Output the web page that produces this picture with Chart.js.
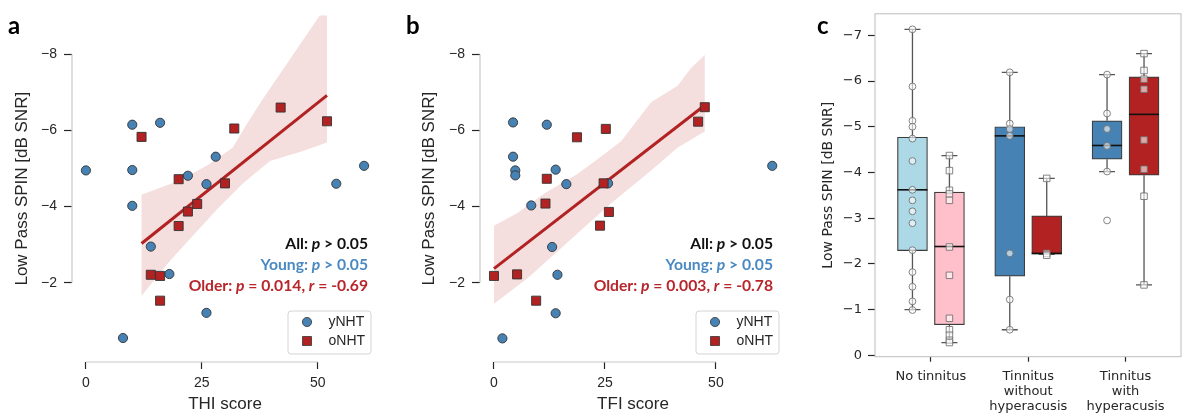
<!DOCTYPE html>
<html>
<head>
<meta charset="utf-8">
<script src="https://cdn.jsdelivr.net/npm/chart.js"></script>
<style>
  body { margin: 0; background: #fff; }
  #wrap { position: relative; width: 1188px; height: 419px; }
  canvas { position: absolute; top: 0; }
</style>
</head>
<body>
<div id="wrap">
  <canvas id="chartA" width="400" height="419" style="left:0"></canvas>
  <canvas id="chartB" width="400" height="419" style="left:400px"></canvas>
  <canvas id="chartC" width="388" height="419" style="left:800px"></canvas>
</div>
<script>
// ---- panel a: THI score ----
const thiYoungX = [0, 10, 16, 10, 22, 28, 26, 54, 60, 10, 14, 18, 26, 8];
const thiYoungY = [-4.95, -6.15, -6.2, -4.96, -4.81, -5.31, -4.59, -4.6, -5.07, -4.02, -2.95, -2.23, -1.21, -0.55];
const thiOlderX = [12, 32, 42, 52, 20, 30, 24, 22, 20, 14, 16, 16];
const thiOlderY = [-5.83, -6.05, -6.6, -6.24, -4.72, -4.61, -4.07, -3.87, -3.49, -2.21, -2.18, -1.53];
const thiFitX = [12, 52];
const thiFitY = [-3.03, -6.92];
const thiBandUpX = [12, 20.3, 26.7, 31.7, 34.6, 38.2, 42.5, 46.8, 50.4, 52];
const thiBandUpY = [-4.31, -4.69, -5.12, -5.55, -6.15, -6.83, -7.6, -8.37, -9.01, -9.3];
const thiBandLoX = [12, 18.1, 23.1, 28.2, 33.9, 39.7, 46.8, 52];
const thiBandLoY = [-1.66, -2.57, -3.24, -3.92, -4.61, -5.2, -5.46, -5.68];

// ---- panel b: TFI score ----
const tfiYoungX = [4.3, 11.9, 4.3, 4.8, 4.8, 13.9, 16.3, 25.7, 8.4, 62.7, 13.1, 14.3, 13.9, 1.9];
const tfiYoungY = [-6.21, -6.15, -5.31, -4.95, -4.82, -4.97, -4.59, -4.61, -4.03, -5.07, -2.94, -2.21, -1.2, -0.54];
const tfiOlderX = [18.7, 25.2, 47.5, 46, 11.9, 24.7, 11.6, 25.9, 23.9, 0, 5.2, 9.5];
const tfiOlderY = [-5.82, -6.04, -6.61, -6.23, -4.73, -4.61, -4.08, -3.86, -3.5, -2.18, -2.22, -1.53];
const tfiFitX = [0, 47.5];
const tfiFitY = [-2.37, -6.66];
const tfiBandUpX = [0, 5.4, 11.4, 18.9, 24.9, 28.7, 35.4, 41.4, 44.4, 47.5];
const tfiBandUpY = [-3.5, -3.84, -4.35, -4.86, -5.38, -5.72, -6.74, -7.17, -7.64, -7.98];
const tfiBandLoX = [0, 7.7, 17.4, 26.4, 35.4, 41.4, 47.5];
const tfiBandLoY = [-1.45, -2.13, -3.15, -4.09, -4.95, -5.55, -5.97];

const yTicksAB = [-8, -6, -4, -2];
const xTicksAB = [0, 25, 50];

// ---- panel c: box plots ----
const groupPos = [0, 1, 2];
const groupLabels = ['No tinnitus', ['Tinnitus', 'without', 'hyperacusis'], ['Tinnitus', 'with', 'hyperacusis']];
const yTicksC = [-7, -6, -5, -4, -3, -2, -1, 0];
const youngQ1 = [-2.29, -1.73, -4.29];
const youngQ3 = [-4.77, -5.0, -5.13];
const youngMed = [-3.62, -4.8, -4.59];
const youngLo = [-1.0, -0.56, -4.02];
const youngHi = [-7.13, -6.19, -6.14];
const olderQ1 = [-0.67, -2.21, -3.94];
const olderQ3 = [-3.57, -3.05, -6.09];
const olderMed = [-2.38, -2.23, -5.27];
const olderLo = [-0.28, -2.21, -1.54];
const olderHi = [-4.37, -3.87, -6.6];
const youngPts = [
  [-7.13, -5.88, -5.13, -5.0, -4.74, -4.25, -3.62, -3.39, -3.15, -2.89, -2.3, -1.82, -1.5, -1.18, -0.99],
  [-6.19, -5.07, -4.95, -4.8, -2.23, -1.22, -0.56],
  [-6.14, -5.29, -4.95, -4.58, -4.02, -2.95]
];
const olderPts = [
  [-4.37, -4.04, -3.61, -3.53, -3.39, -2.37, -1.75, -0.81, -0.56, -0.44, -0.33, -0.28],
  [-3.87, -2.23, -2.19],
  [-6.6, -6.23, -6.04, -5.82, -4.71, -4.07, -3.48, -1.54]
];
const youngFill = ['#add8e6', '#4682b4', '#4682b4'];
const olderFill = ['#ffc0cb', '#b22222', '#b22222'];

const SANS = '"Liberation Sans", Arial, sans-serif';
const DEJAVU = '"DejaVu Sans", sans-serif';
const BLUE = '#4682b4';
const RED = '#b22222';
const TXT = '#262626';
const dodge = 0.19;

function minusFmt(v) { return v < 0 ? '\u2212' + Math.abs(v) : String(v); }
function fixedTicks(list) { return s => { s.ticks = list.map(v => ({ value: v })); }; }
function pts(xs, ys) { return xs.map((x, i) => ({ x, y: ys[i] })); }

function noteFont(italic) { return (italic ? 'italic ' : '') + 'bold 15.7px Lato'; }

function makeDeco(cfg) {
  return {
    id: 'deco',
    beforeDatasetsDraw(chart) {
      const { ctx, chartArea: a, scales: { x, y } } = chart;
      ctx.save();
      ctx.strokeStyle = '#c8c8c8';
      ctx.lineWidth = 1.2;
      ctx.beginPath();
      ctx.moveTo(a.left, y.getPixelForValue(yTicksAB[0]));
      ctx.lineTo(a.left, y.getPixelForValue(yTicksAB[yTicksAB.length - 1]));
      ctx.moveTo(x.getPixelForValue(xTicksAB[0]), a.bottom);
      ctx.lineTo(x.getPixelForValue(xTicksAB[xTicksAB.length - 1]), a.bottom);
      ctx.stroke();
      ctx.restore();
    },
    afterDraw(chart) {
      const { ctx, chartArea: a } = chart;
      ctx.save();
      ctx.fillStyle = '#000';
      ctx.font = 'bold 24px Lato';
      ctx.textAlign = 'left';
      ctx.textBaseline = 'alphabetic';
      ctx.fillText(cfg.letter, cfg.letterX, 33.5);

      // stats text, right aligned
      ctx.textBaseline = 'middle';
      cfg.notes.forEach(n => {
        let w = 0;
        n.runs.forEach(r => { ctx.font = noteFont(r[1]); w += ctx.measureText(r[0]).width; });
        let x = a.right - cfg.noteRight - w;
        ctx.fillStyle = n.color;
        n.runs.forEach(r => {
          ctx.font = noteFont(r[1]);
          ctx.fillText(r[0], x, n.y);
          x += ctx.measureText(r[0]).width;
        });
      });

      // legend box
      const bw = 83, bh = 43;
      const bx = a.right - 7 - bw, by = a.bottom - 8 - bh;
      ctx.beginPath();
      ctx.roundRect(bx, by, bw, bh, 3);
      ctx.fillStyle = 'rgba(255,255,255,0.85)';
      ctx.fill();
      ctx.strokeStyle = '#d4d4d4';
      ctx.lineWidth = 1;
      ctx.stroke();
      const items = chart.data.datasets.filter(d => d.label);
      items.forEach((d, i) => {
        const mx = bx + 19, my = by + 11 + i * 19;
        ctx.fillStyle = d.backgroundColor;
        ctx.strokeStyle = d.borderColor;
        ctx.lineWidth = 0.8;
        ctx.beginPath();
        if (d.pointStyle === 'rect') ctx.rect(mx - 4.5, my - 4.5, 9, 9);
        else ctx.arc(mx, my, 4.6, 0, Math.PI * 2);
        ctx.fill();
        ctx.stroke();
        ctx.fillStyle = TXT;
        ctx.font = '14px ' + SANS;
        ctx.textAlign = 'left';
        ctx.fillText(d.label, bx + 40.5, my);
      });
      ctx.restore();
    }
  };
}

function scatterPanel(id, p) {
  const band = pts(p.upX, p.upY).concat(pts(p.loX, p.loY).reverse());
  return new Chart(document.getElementById(id), {
    type: 'scatter',
    data: {
      datasets: [
        { type: 'line', data: band, fill: 'shape', backgroundColor: 'rgba(178,34,34,0.15)',
          borderColor: 'rgba(0,0,0,0)', borderWidth: 0, pointRadius: 0, tension: 0, order: 4 },
        { type: 'line', data: pts(p.fitX, p.fitY), fill: false, borderColor: RED, borderWidth: 3,
          pointRadius: 0, order: 3 },
        { label: 'yNHT', data: pts(p.youngX, p.youngY), pointStyle: 'circle', pointRadius: 4.6,
          backgroundColor: BLUE, borderColor: '#333', borderWidth: 0.9, order: 2 },
        { label: 'oNHT', data: pts(p.olderX, p.olderY), pointStyle: 'rect', pointRadius: 6.4,
          backgroundColor: RED, borderColor: '#333', borderWidth: 0.9, order: 1 }
      ]
    },
    options: {
      responsive: false,
      animation: false,
      layout: { padding: { top: 8, right: p.padRight, left: 0, bottom: 0 } },
      plugins: { legend: { display: false }, tooltip: { enabled: false } },
      scales: {
        x: {
          type: 'linear', min: p.xMin, max: p.xMax,
          afterBuildTicks: fixedTicks(xTicksAB),
          afterFit: s => { s.height = 57; },
          grid: { drawOnChartArea: false, tickLength: 7, tickColor: TXT, tickWidth: 1.2 },
          border: { display: false },
          ticks: { autoSkip: false, maxRotation: 0, padding: 5.6, color: TXT, font: { family: SANS, size: 14 } },
          title: { display: true, text: p.xTitle, color: TXT, font: { family: SANS, size: 17 },
                   padding: { top: 0, bottom: 4.8 } }
        },
        y: {
          type: 'linear', reverse: true, min: -9.02, max: 0.08,
          afterBuildTicks: fixedTicks(yTicksAB),
          afterFit: s => { s.width = p.yWidth; },
          grid: { drawOnChartArea: false, tickLength: 8, tickColor: TXT, tickWidth: 1.2 },
          border: { display: false },
          ticks: { autoSkip: false, padding: 7, color: TXT, font: { family: SANS, size: 14 },
                   callback: v => minusFmt(v) },
          title: { display: true, text: 'Low Pass SPIN [dB SNR]', color: TXT,
                   font: { family: SANS, size: 17 }, padding: { top: p.yTitlePad, bottom: 0 } }
        }
      }
    },
    plugins: [makeDeco(p.deco)]
  });
}

scatterPanel('chartA', {
  youngX: thiYoungX, youngY: thiYoungY, olderX: thiOlderX, olderY: thiOlderY,
  fitX: thiFitX, fitY: thiFitY, upX: thiBandUpX, upY: thiBandUpY, loX: thiBandLoX, loY: thiBandLoY,
  xMin: -3, xMax: 63, xTitle: 'THI score', yWidth: 72, padRight: 22, yTitlePad: 11.8,
  deco: {
    letter: 'a', letterX: 8, noteRight: 10,
    notes: [
      { runs: [['All: ', 0], ['p', 1], [' > 0.05', 0]], color: '#111', y: 244.3 },
      { runs: [['Young: ', 0], ['p', 1], [' > 0.05', 0]], color: '#4a89c2', y: 265 },
      { runs: [['Older: ', 0], ['p', 1], [' = 0.014, ', 0], ['r', 1], [' = -0.69', 0]], color: '#b8262b', y: 286 }
    ]
  }
});

scatterPanel('chartB', {
  youngX: tfiYoungX, youngY: tfiYoungY, olderX: tfiOlderX, olderY: tfiOlderY,
  fitX: tfiFitX, fitY: tfiFitY, upX: tfiBandUpX, upY: tfiBandUpY, loX: tfiBandLoX, loY: tfiBandLoY,
  xMin: -3.15, xMax: 65.8, xTitle: 'TFI score', yWidth: 80, padRight: 14, yTitlePad: 19.5,
  deco: {
    letter: 'b', letterX: 6, noteRight: 13,
    notes: [
      { runs: [['All: ', 0], ['p', 1], [' > 0.05', 0]], color: '#111', y: 244.3 },
      { runs: [['Young: ', 0], ['p', 1], [' > 0.05', 0]], color: '#4a89c2', y: 265 },
      { runs: [['Older: ', 0], ['p', 1], [' = 0.003, ', 0], ['r', 1], [' = -0.78', 0]], color: '#b8262b', y: 286 }
    ]
  }
});

// ---- panel c ----
const boxSets = [
  { q1: youngQ1, q3: youngQ3, med: youngMed, lo: youngLo, hi: youngHi },
  { q1: olderQ1, q3: olderQ3, med: olderMed, lo: olderLo, hi: olderHi }
];

const boxDeco = {
  id: 'boxDeco',
  beforeDatasetsDraw(chart) {
    const { ctx, chartArea: a } = chart;
    ctx.save();
    ctx.strokeStyle = '#bdbdbd';
    ctx.lineWidth = 1;
    ctx.strokeRect(a.left, a.top, a.right - a.left, a.bottom - a.top);
    ctx.restore();
  },
  afterDatasetDraw(chart, args) {
    const st = boxSets[args.index];
    if (!st) return;
    const { ctx } = chart;
    const y = chart.scales.y;
    ctx.save();
    args.meta.data.forEach((el, i) => {
      const x = el.x;
      ctx.strokeStyle = '#555';
      ctx.lineWidth = 1.3;
      ctx.beginPath();
      ctx.moveTo(x, y.getPixelForValue(st.q3[i]));
      ctx.lineTo(x, y.getPixelForValue(st.hi[i]));
      ctx.moveTo(x - 8, y.getPixelForValue(st.hi[i]));
      ctx.lineTo(x + 8, y.getPixelForValue(st.hi[i]));
      ctx.moveTo(x, y.getPixelForValue(st.q1[i]));
      ctx.lineTo(x, y.getPixelForValue(st.lo[i]));
      ctx.moveTo(x - 8, y.getPixelForValue(st.lo[i]));
      ctx.lineTo(x + 8, y.getPixelForValue(st.lo[i]));
      ctx.stroke();
      ctx.strokeStyle = '#111';
      ctx.lineWidth = 1.6;
      ctx.beginPath();
      ctx.moveTo(x - el.width / 2, y.getPixelForValue(st.med[i]));
      ctx.lineTo(x + el.width / 2, y.getPixelForValue(st.med[i]));
      ctx.stroke();
    });
    ctx.restore();
    if (args.index === 0) {
      ctx.save();
      ctx.fillStyle = '#000';
      ctx.font = 'bold 24px Lato';
      ctx.textBaseline = 'alphabetic';
      ctx.fillText('c', 17, 33.5);
      ctx.restore();
    }
  }
};

function stripPts(lists, shift) {
  const out = [];
  lists.forEach((vals, g) => vals.forEach(v => out.push({ x: groupPos[g] + shift, y: v })));
  return out;
}

new Chart(document.getElementById('chartC'), {
  type: 'bar',
  data: {
    datasets: [
      { data: groupPos.map((g, i) => ({ x: g - dodge, y: [youngQ1[i], youngQ3[i]] })),
        backgroundColor: youngFill, borderColor: '#3d3d3d', borderWidth: 1.2, borderSkipped: false,
        barThickness: 30, grouped: false, order: 2 },
      { data: groupPos.map((g, i) => ({ x: g + dodge, y: [olderQ1[i], olderQ3[i]] })),
        backgroundColor: olderFill, borderColor: '#3d3d3d', borderWidth: 1.2, borderSkipped: false,
        barThickness: 30, grouped: false, order: 2 },
      { type: 'scatter', data: stripPts(youngPts, -dodge), pointStyle: 'circle', pointRadius: 3.4,
        backgroundColor: 'rgba(255,255,255,0.6)', borderColor: 'rgba(110,110,110,0.85)', borderWidth: 1, order: 1 },
      { type: 'scatter', data: stripPts(olderPts, dodge), pointStyle: 'rect', pointRadius: 4.6,
        backgroundColor: 'rgba(255,255,255,0.6)', borderColor: 'rgba(110,110,110,0.85)', borderWidth: 1, order: 1 }
    ]
  },
  options: {
    responsive: false,
    animation: false,
    layout: { padding: { top: 11.7, right: 7, left: 0, bottom: 0 } },
    plugins: { legend: { display: false }, tooltip: { enabled: false } },
    scales: {
      x: {
        type: 'linear', min: -0.575, max: 2.57, offset: false,
        afterBuildTicks: fixedTicks(groupPos),
        afterFit: s => { s.height = 62.3; },
        grid: { offset: false, drawOnChartArea: false, tickLength: 5, tickColor: TXT, tickWidth: 1.2 },
        border: { display: false },
        ticks: { autoSkip: false, maxRotation: 0, padding: 7, color: TXT,
                 font: { family: DEJAVU, size: 13, lineHeight: 1.18 },
                 callback: v => groupLabels[v] }
      },
      y: {
        type: 'linear', reverse: true, min: -7.47, max: 0.03,
        afterBuildTicks: fixedTicks(yTicksC),
        afterFit: s => { s.width = 75; },
        grid: { drawOnChartArea: false, tickLength: 7, tickColor: TXT, tickWidth: 1.2 },
        border: { display: false },
        ticks: { autoSkip: false, padding: 6, color: TXT, font: { family: DEJAVU, size: 13 },
                 callback: v => minusFmt(v) },
        title: { display: true, text: 'Low Pass SPIN [dB SNR]', color: TXT,
                 font: { family: DEJAVU, size: 14 }, padding: { top: 19.6, bottom: 0 } }
      }
    }
  },
  plugins: [boxDeco]
});
</script>
</body>
</html>
